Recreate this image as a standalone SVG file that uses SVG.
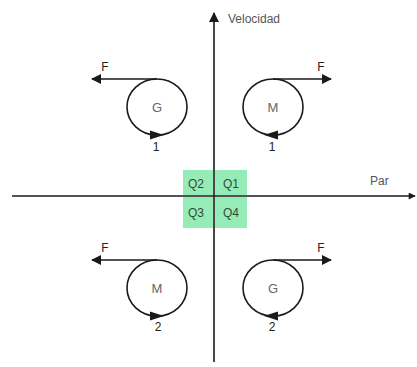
<svg xmlns="http://www.w3.org/2000/svg" width="417" height="367" viewBox="0 0 417 367">
<style>
.ln{stroke:#1a1a1a;stroke-width:1.6;fill:none}
.ah{fill:#1a1a1a}
.t{font-family:"Liberation Sans",Arial,sans-serif;font-size:12px;fill:#222;text-anchor:middle}
.tq{font-family:"Liberation Sans",Arial,sans-serif;font-size:12px;fill:#2f4a3a;text-anchor:middle}
.tl{font-family:"Liberation Sans",Arial,sans-serif;font-size:12px;fill:#555}
.g{font-family:"Liberation Sans",Arial,sans-serif;font-size:13px;fill:#666;text-anchor:middle}
.q{fill:#96ecb6}
</style>
<defs>
<marker id="arr" viewBox="0 0 10 10" refX="9" refY="5" markerWidth="9" markerHeight="7" markerUnits="userSpaceOnUse" orient="auto">
<path d="M0,0 L10,5 L0,10 Z" fill="#1a1a1a"/>
</marker>
<marker id="arrF" viewBox="0 0 10 10" refX="9" refY="5" markerWidth="15" markerHeight="10" markerUnits="userSpaceOnUse" orient="auto">
<path d="M0,0 L10,5 L0,10 Z" fill="#1a1a1a"/>
</marker>
</defs>

<g id="quadrants">
<rect class="q" x="183" y="170" width="30" height="25"/>
<rect class="q" x="215" y="170" width="32" height="25"/>
<rect class="q" x="183" y="197" width="30" height="31"/>
<rect class="q" x="215" y="197" width="32" height="31"/>
<text class="tq" x="196" y="188">Q2</text>
<text class="tq" x="231" y="188">Q1</text>
<text class="tq" x="196" y="217">Q3</text>
<text class="tq" x="231" y="217">Q4</text>
</g>

<g id="connectors">
<line class="ln" x1="214" y1="362" x2="214" y2="13" marker-end="url(#arrF)"/>
<line class="ln" x1="12" y1="196" x2="415" y2="196" marker-end="url(#arr)"/>
</g>

<g id="axis-labels">
<text class="tl" x="228" y="23">Velocidad</text>
<text class="tl" x="370" y="185">Par</text>
</g>

<g id="q2-G">
<ellipse class="ln" cx="157" cy="107" rx="30" ry="28"/>
<line class="ln" x1="157" y1="79" x2="92" y2="79" marker-end="url(#arrF)"/>
<polygon class="ah" points="150,130.5 164,135 150,139.5"/>
<text class="t" x="105" y="71">F</text>
<text class="g" x="157" y="112">G</text>
<text class="t" x="156" y="151">1</text>
</g>

<g id="q1-M">
<ellipse class="ln" cx="273" cy="107" rx="30" ry="28"/>
<line class="ln" x1="273" y1="79" x2="331" y2="79" marker-end="url(#arrF)"/>
<polygon class="ah" points="278,130.5 264,135 278,139.5"/>
<text class="t" x="321" y="71">F</text>
<text class="g" x="273" y="112">M</text>
<text class="t" x="272" y="151">1</text>
</g>

<g id="q3-M">
<ellipse class="ln" cx="157" cy="288" rx="30" ry="28"/>
<line class="ln" x1="157" y1="260" x2="92" y2="260" marker-end="url(#arrF)"/>
<polygon class="ah" points="150,311.5 164,316 150,320.5"/>
<text class="t" x="105" y="252">F</text>
<text class="g" x="157" y="293">M</text>
<text class="t" x="158" y="331">2</text>
</g>

<g id="q4-G">
<ellipse class="ln" cx="273" cy="288" rx="30" ry="28"/>
<line class="ln" x1="273" y1="260" x2="331" y2="260" marker-end="url(#arrF)"/>
<polygon class="ah" points="278,311.5 264,316 278,320.5"/>
<text class="t" x="321" y="252">F</text>
<text class="g" x="273" y="293">G</text>
<text class="t" x="272" y="331">2</text>
</g>
</svg>
